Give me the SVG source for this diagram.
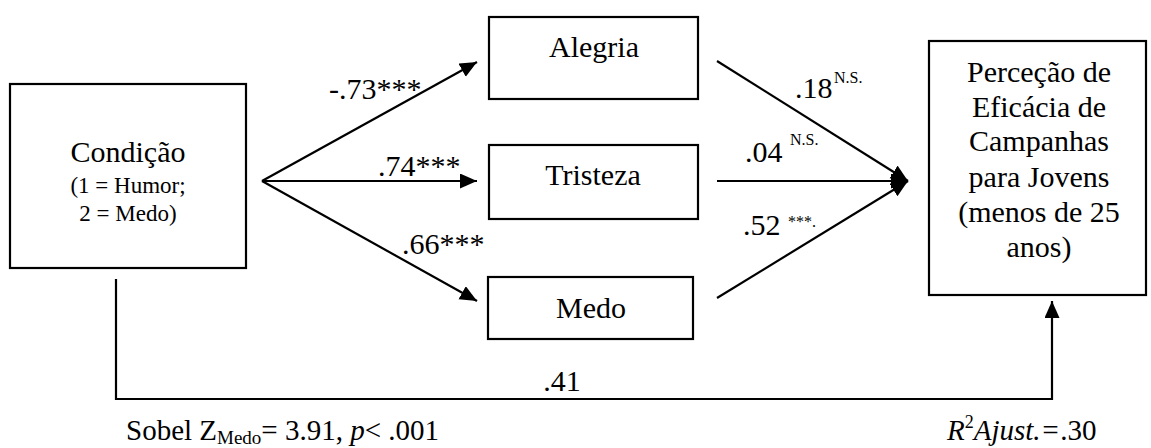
<svg xmlns="http://www.w3.org/2000/svg" width="1151" height="448" viewBox="0 0 1151 448" font-family="'Liberation Serif', 'Times New Roman', serif">
<style>
.box{fill:#fff;stroke:#000;stroke-width:2.2}
.ln{fill:none;stroke:#000;stroke-width:2.2}
.nodetxt{font-family:"Liberation Serif","Times New Roman",serif;font-size:30px;text-anchor:middle;fill:#000}
.subtxt{font-family:"Liberation Serif","Times New Roman",serif;font-size:23px;text-anchor:middle;fill:#000}
.coef{font-family:"Liberation Serif","Times New Roman",serif;font-size:30px;fill:#000}
.sig{font-family:"Liberation Serif","Times New Roman",serif;font-size:16px;fill:#000}
.note{font-family:"Liberation Serif","Times New Roman",serif;font-size:29px;fill:#000}
</style>
<defs>
<marker id="ah" markerUnits="userSpaceOnUse" markerWidth="18" markerHeight="16" refX="17" refY="7.5" orient="auto">
<path d="M0,0 L17,7.5 L0,15 z" fill="#000"/>
</marker>
</defs>
<g id="connectors">
<line class="ln" x1="262" y1="181" x2="477" y2="62" marker-end="url(#ah)"/>
<line class="ln" x1="262" y1="181" x2="477" y2="181" marker-end="url(#ah)"/>
<line class="ln" x1="262" y1="181" x2="477" y2="301" marker-end="url(#ah)"/>
<line class="ln" x1="717" y1="61" x2="908" y2="181" marker-end="url(#ah)"/>
<line class="ln" x1="717" y1="181" x2="908" y2="181" marker-end="url(#ah)"/>
<line class="ln" x1="717" y1="298" x2="908" y2="181" marker-end="url(#ah)"/>
<polyline class="ln" points="116,279 116,399 1052,399 1052,301" marker-end="url(#ah)"/>
<text class="coef" x="329" y="99">-.73***</text>
<text class="coef" x="378" y="176">.74***</text>
<text class="coef" x="402" y="254">.66***</text>
<text class="coef" x="795" y="98">.18</text><text class="sig" x="834" y="83">N.S.</text>
<text class="coef" x="745" y="162">.04</text><text class="sig" x="790" y="145">N.S.</text>
<text class="coef" x="743" y="235">.52</text><text class="sig" x="788" y="227">***.</text>
<text class="coef" x="562" y="391" text-anchor="middle">.41</text>
</g>
<g id="condicao">
<rect class="box" x="10" y="84" width="236" height="184"/>
<text class="nodetxt" x="128" y="162">Condição</text>
<text class="subtxt" x="128" y="193">(1 = Humor;</text>
<text class="subtxt" x="128" y="221">2 = Medo)</text>
</g>
<g id="alegria">
<rect class="box" x="489" y="17" width="209" height="82"/>
<text class="nodetxt" x="594" y="57">Alegria</text>
</g>
<g id="tristeza">
<rect class="box" x="489" y="145" width="209" height="74"/>
<text class="nodetxt" x="593" y="185">Tristeza</text>
</g>
<g id="medo">
<rect class="box" x="488" y="277" width="205" height="62"/>
<text class="nodetxt" x="591" y="318">Medo</text>
</g>
<g id="percecao">
<rect class="box" x="929" y="41" width="217" height="254"/>
<text class="nodetxt" x="1039" y="82">Perceção de</text>
<text class="nodetxt" x="1039" y="117">Eficácia de</text>
<text class="nodetxt" x="1039" y="151">Campanhas</text>
<text class="nodetxt" x="1039" y="187">para Jovens</text>
<text class="nodetxt" x="1039" y="222">(menos de 25</text>
<text class="nodetxt" x="1039" y="257">anos)</text>
</g>
<g id="notes">
<text class="note" x="126" y="440">Sobel Z<tspan font-size="19px" dy="4">Medo</tspan><tspan dy="-4">= 3.91, </tspan><tspan font-style="italic">p</tspan>&lt; .001</text>
<text class="note" x="947" y="440" font-size="30px"><tspan font-style="italic">R</tspan><tspan font-size="18px" dy="-12">2</tspan><tspan font-style="italic" dy="12">Ajust.=</tspan>.30</text>
</g>
</svg>
